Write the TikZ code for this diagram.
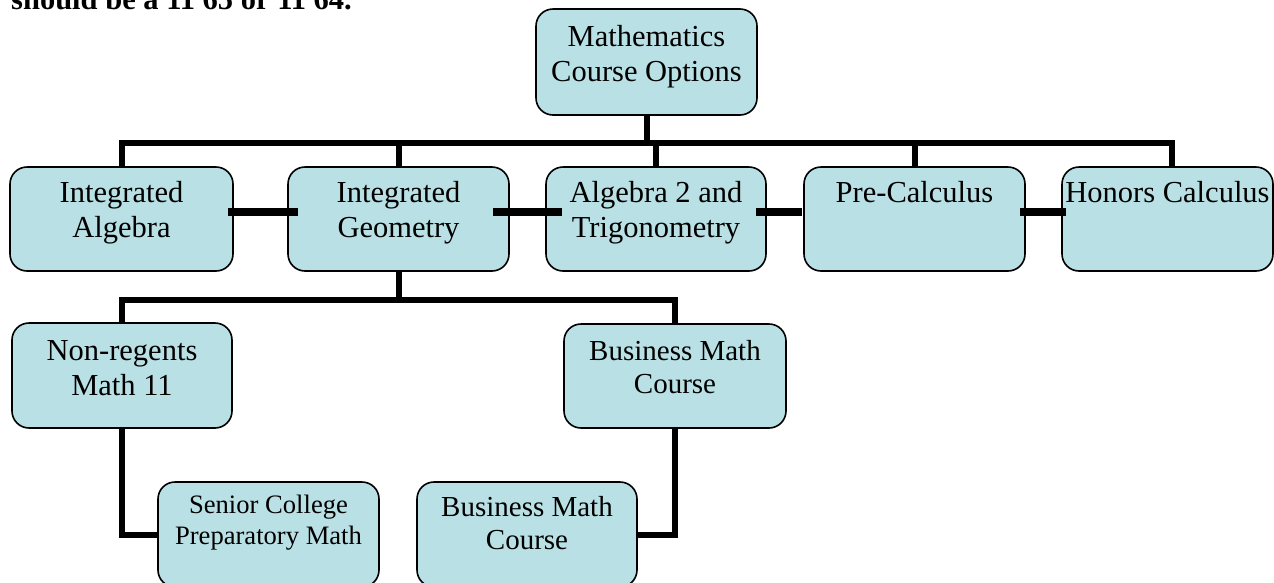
\documentclass[tikz,border=0pt]{standalone}
\usepackage{fontspec}
\setmainfont{Liberation Serif}
\definecolor{boxfill}{RGB}{185,224,228}
\newcommand\boxtxt[6]{\parbox[c][#2][t]{#1}{\fontsize{#3}{#4}\selectfont\centering\rule{0pt}{#5}#6\par}}
\tikzset{
  box/.style={draw=black, line width=1.6pt, rounded corners=17pt, fill=boxfill, inner sep=0pt},
  bus/.style={draw=black, line width=6pt},
  link/.style={draw=black, line width=7.5pt},
  note/.style={inner sep=0pt, anchor=base west, font=\fontsize{30.5pt}{35pt}\selectfont\bfseries}
}
\begin{document}
\begin{tikzpicture}[x=1pt, y=-1pt]
\useasboundingbox (0,0) rectangle (1274,582);
\clip (0,0) rectangle (1274,582);

\node[note] (note) at (11,9) {should be a 11 65 or 11 64.};

% level 0
\node[box] (top) at (646.5,62) {\boxtxt{221pt}{106pt}{30.5pt}{35pt}{37pt}{Mathematics\\Course Options}};

% level 1
\node[box] (ia) at (121.5,219) {\boxtxt{223pt}{104pt}{30.5pt}{35pt}{35pt}{Integrated\\Algebra}};
\node[box] (ig) at (398.5,219) {\boxtxt{221pt}{104pt}{30.5pt}{35pt}{35pt}{Integrated\\Geometry}};
\node[box] (a2) at (656,219) {\boxtxt{220pt}{104pt}{30.5pt}{35pt}{35pt}{Algebra 2 and\\Trigonometry}};
\node[box] (pc) at (914.5,219) {\boxtxt{221pt}{104pt}{30.5pt}{35pt}{35pt}{Pre-Calculus}};
\node[box] (hc) at (1167.5,219) {\boxtxt{211pt}{104pt}{30.5pt}{35pt}{35pt}{Honors Calculus}};

% level 2
\node[box] (nr) at (122,375.5) {\boxtxt{220pt}{105pt}{30.5pt}{35pt}{37pt}{Non-regents\\Math 11}};
\node[box] (bm1) at (675,376) {\boxtxt{222pt}{104pt}{29pt}{33pt}{36pt}{Business Math\\Course}};

% level 3
\node[box] (sc) at (268.5,534.5) {\boxtxt{221pt}{105pt}{26.6pt}{31pt}{31pt}{Senior College\\Preparatory Math}};
\node[box] (bm2) at (527,534.5) {\boxtxt{220pt}{105pt}{29pt}{33pt}{34pt}{Business Math\\Course}};

% bus from top
\coordinate (b1) at (0,143);
\coordinate (b2) at (0,300);
\draw[bus] (top.south) -- (top.south |- b1);
\draw[bus] (ia.north) -- (ia.north |- b1) -- ([xshift=4.5pt]hc.north |- b1) -- ([xshift=4.5pt]hc.north);
\draw[bus] (ig.north) -- (ig.north |- b1);
\draw[bus] (a2.north) -- (a2.north |- b1);
\draw[bus] (pc.north) -- (pc.north |- b1);

% sibling links
\draw[link] ([xshift=-6pt,yshift=7pt]ia.east) -- ([xshift=11pt,yshift=7pt]ig.west);
\draw[link] ([xshift=-17pt,yshift=7pt]ig.east) -- ([xshift=17pt,yshift=7pt]a2.west);
\draw[link] ([xshift=-11pt,yshift=7pt]a2.east) -- ([xshift=-1pt,yshift=7pt]pc.west);
\draw[link] ([xshift=-6pt,yshift=7pt]pc.east) -- ([xshift=5pt,yshift=7pt]hc.west);

% bus from Integrated Geometry
\draw[bus] (ig.south) -- (ig.south |- b2);
\draw[bus] (nr.north) -- (nr.north |- b2) -- (bm1.north |- b2) -- (bm1.north);

% lower links
\draw[bus] (nr.south) |- (sc.west);
\draw[bus] (bm1.south) |- (bm2.east);
\end{tikzpicture}
\end{document}
